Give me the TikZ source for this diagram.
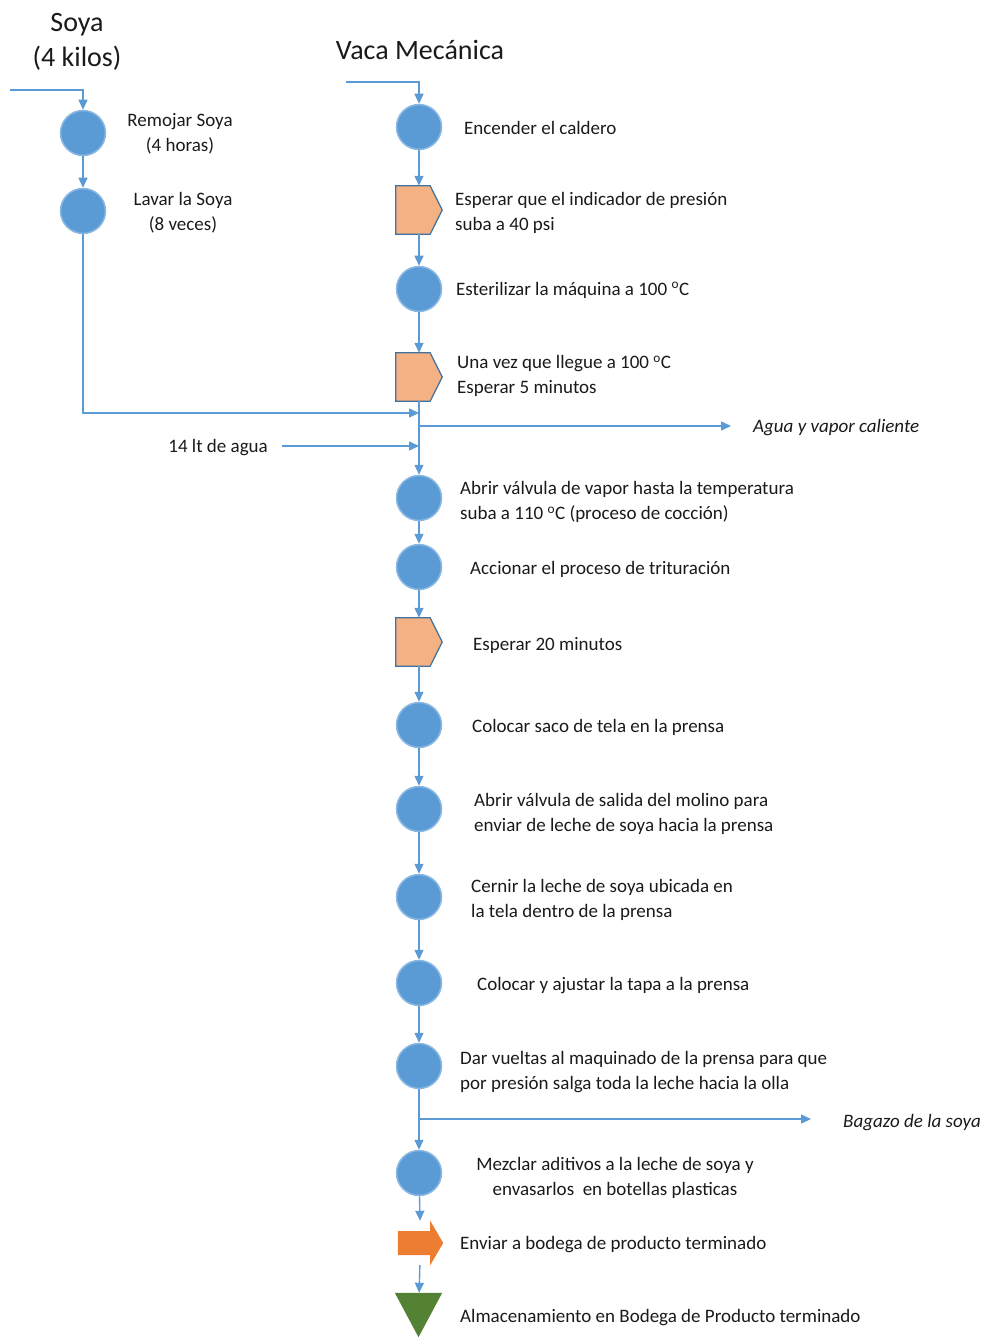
\documentclass[tikz,border=0pt]{standalone}
\usepackage{fontspec}
\setmainfont{Carlito}
\usetikzlibrary{arrows.meta}
\definecolor{lineblue}{HTML}{5B9BD5}
\definecolor{circblue}{HTML}{5B9BD5}
\definecolor{delayfill}{HTML}{F4B183}
\definecolor{delayedge}{HTML}{41719C}
\definecolor{sendorange}{HTML}{ED7D31}
\definecolor{storegreen}{HTML}{548235}
\definecolor{txt}{HTML}{1A1A1A}
\newcommand\delayshape[1]{\draw[fill=delayfill, draw=delayedge, line width=1.2pt] (#1.north west) -- ([xshift=-12pt]#1.north east) -- (#1.east) -- ([xshift=-12pt]#1.south east) -- (#1.south west) -- cycle;}
\begin{document}
\begin{tikzpicture}[x=1pt,y=-1pt,
 flow/.style={draw=lineblue, line width=1.4pt, -{Triangle[width=9pt,length=10pt]}},
 op/.style={circle, fill=circblue, draw=circblue!70!white, line width=1.5pt, minimum size=45pt, inner sep=0pt},
 delaybox/.style={minimum width=46pt, minimum height=48pt, inner sep=0pt},
 lbl/.style={font=\fontsize{19}{25}\selectfont, text=txt, align=left, anchor=west, inner sep=0pt, yshift=-2pt},
 clbl/.style={font=\fontsize{19}{25}\selectfont, text=txt, align=center, inner sep=0pt, yshift=-2pt},
 ilbl/.style={font=\fontsize{19}{25}\selectfont\itshape, text=txt, anchor=west, inner sep=0pt, yshift=-2pt},
 title/.style={font=\fontsize{28}{35}\selectfont, text=txt, align=center, inner sep=0pt, yshift=-2pt}]
\useasboundingbox (0,0) rectangle (987,1337);

% titles
\node[title] (tsoya) at (77,40) {Soya\\(4 kilos)};
\node[title] (tvaca) at (420,48) {Vaca Mecánica};

% left column
\coordinate (sin) at (10,90);
\node[op] (s1) at (83,133) {};
\node[op] (s2) at (83,211) {};
\node[clbl] (ts1) at (180,132) {Remojar Soya\\(4 horas)};
\node[clbl] (ts2) at (183,211) {Lavar la Soya\\(8 veces)};

% main column
\coordinate (vin) at (346,82);
\node[op] (n1) at (419,127) {};
\node[delaybox] (d1) at (419,210) {};
\node[op] (n2) at (419,289) {};
\node[delaybox] (d2) at (419,377) {};
\coordinate (j1) at (419,413);
\coordinate (j2) at (419,426);
\coordinate (o1) at (731,426);
\coordinate (w1) at (282,446);
\coordinate (j3) at (419,446);
\node[op] (n3) at (419,498) {};
\node[op] (n4) at (419,567) {};
\node[delaybox] (d3) at (419,642) {};
\node[op] (n5) at (419,725) {};
\node[op] (n6) at (419,809) {};
\node[op] (n7) at (419,897) {};
\node[op] (n8) at (419,983) {};
\node[op] (n9) at (419,1066) {};
\coordinate (j4) at (419,1119);
\coordinate (o2) at (811,1119);
\node[op] (n10) at (419,1173) {};
\node[minimum width=45pt, minimum height=44pt, inner sep=0pt] (send) at (420.5,1243) {};
\node[minimum width=47pt, minimum height=44pt, inner sep=0pt] (store) at (418.5,1315) {};

\delayshape{d1}
\delayshape{d2}
\delayshape{d3}
\fill[sendorange] ([yshift=12pt]send.west) -- ([xshift=-13pt,yshift=12pt]send.east) -- ([xshift=-13pt]send.north east) -- (send.east) -- ([xshift=-13pt]send.south east) -- ([xshift=-13pt,yshift=-12pt]send.east) -- ([yshift=-12pt]send.west) -- cycle;
\fill[storegreen] (store.north west) -- (store.north east) -- (store.south) -- cycle;

% labels
\node[lbl] (t1) at (464,126) {Encender el caldero};
\node[lbl] (t2) at (455,211) {Esperar que el indicador de presión\\suba a 40 psi};
\node[lbl] (t3) at (456,288) {Esterilizar la máquina a 100 \textsuperscript{o}C};
\node[lbl] (t4) at (457,374) {Una vez que llegue a 100 \textsuperscript{o}C\\Esperar 5 minutos};
\node[ilbl] (tout1) at (753,426) {Agua y vapor caliente};
\node[font=\fontsize{19}{25}\selectfont, text=txt, anchor=east, inner sep=0pt, yshift=-2pt] (tw) at (268,446) {14 lt de agua};
\node[lbl] (t5) at (460,500) {Abrir válvula de vapor hasta la temperatura\\suba a 110 \textsuperscript{o}C (proceso de cocción)};
\node[lbl] (t6) at (470,567) {Accionar el proceso de trituración};
\node[lbl] (t7) at (473,643) {Esperar 20 minutos};
\node[lbl] (t8) at (472,725) {Colocar saco de tela en la prensa};
\node[lbl] (t9) at (474,812) {Abrir válvula de salida del molino para\\enviar de leche de soya hacia la prensa};
\node[lbl] (t10) at (471,898) {Cernir la leche de soya ubicada en\\la tela dentro de la prensa};
\node[lbl] (t11) at (477,984) {Colocar y ajustar la tapa a la prensa};
\node[lbl] (t12) at (460,1070) {Dar vueltas al maquinado de la prensa para que\\por presión salga toda la leche hacia la olla};
\node[ilbl] (tout2) at (843,1121) {Bagazo de la soya};
\node[clbl] (t13) at (615,1176) {Mezclar aditivos a la leche de soya y\\envasarlos\ \ en botellas plasticas};
\node[lbl] (t14) at (460,1243) {Enviar a bodega de producto terminado};
\node[lbl] (t15) at (460,1316) {Almacenamiento en Bodega de Producto terminado};

% connectors
\draw[flow] (sin) -| (s1);
\draw[flow] (s1) -- (s2);
\draw[flow] (s2) |- (j1);
\draw[flow] (vin) -| (n1);
\draw[flow] (n1) -- (d1);
\draw[flow] (d1) -- (n2);
\draw[flow] (n2) -- (d2);
\draw[flow] (d2) -- (n3);
\draw[flow] (j2) -- (o1);
\draw[flow] (w1) -- (j3);
\draw[flow] (n3) -- (n4);
\draw[flow] (n4) -- (d3);
\draw[flow] (d3) -- (n5);
\draw[flow] (n5) -- (n6);
\draw[flow] (n6) -- (n7);
\draw[flow] (n7) -- (n8);
\draw[flow] (n8) -- (n9);
\draw[flow] (n9) -- (n10);
\draw[flow] (j4) -- (o2);
\draw[flow] (n10) -- (send);
\draw[flow] (send) -- (store);
\end{tikzpicture}
\end{document}
